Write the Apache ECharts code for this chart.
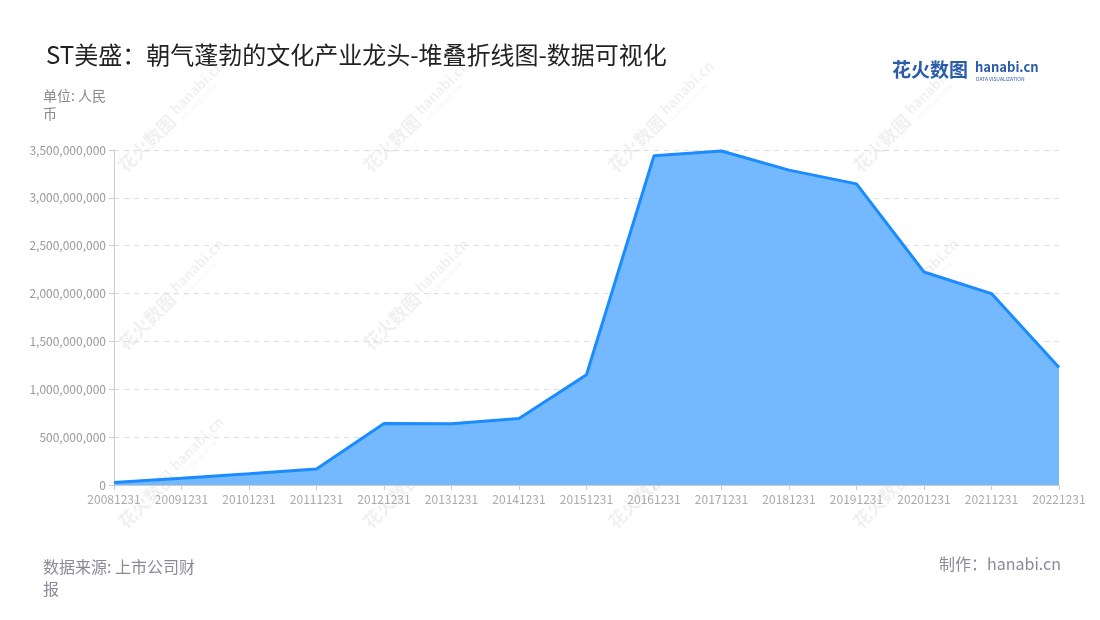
<!DOCTYPE html>
<html>
<head>
<meta charset="utf-8">
<script src="https://cdn.jsdelivr.net/npm/echarts@6/dist/echarts.min.js"></script>
<style>
html,body{margin:0;padding:0;background:#fff;}
#main{width:1100px;height:620px;}
</style>
</head>
<body>
<div id="main"></div>
<script>
const categories = ['20081231','20091231','20101231','20111231','20121231','20131231','20141231','20151231','20161231','20171231','20181231','20191231','20201231','20211231','20221231'];
const values = [25000000, 70000000, 118000000, 168000000, 643000000, 640000000, 695000000, 1153000000, 3440000000, 3490000000, 3290000000, 3146000000, 2225000000, 2000000000, 1228000000];
const titleText = 'ST美盛：朝气蓬勃的文化产业龙头-堆叠折线图-数据可视化';
const unitText = '单位: 人民\n币';
const sourceText = '数据来源: 上市公司财\n报';
const creditText = '制作：hanabi.cn';

const FONT = '"Noto Sans CJK SC", "Noto Sans", sans-serif';
const chart = echarts.init(document.getElementById('main'));

// watermarks
const wm = [];
const cols = [160, 405, 650, 895];
const rows = [130, 308, 486];
const WMC = 'rgba(0,0,0,0.06)';
cols.forEach(cx => rows.forEach(cy => {
  wm.push({
    type: 'group', x: cx, y: cy, rotation: Math.PI / 4, z: 0, silent: true,
    children: [
      {type: 'text', x: -55, y: 0, style: {text: '花火数图', font: 'bold 18px ' + FONT, fill: WMC, verticalAlign: 'middle'}},
      {type: 'text', x: 22, y: -4, style: {text: 'hanabi.cn', font: 'bold 14px ' + FONT, fill: WMC, verticalAlign: 'middle'}},
      {type: 'text', x: 23, y: 8, style: {text: 'DATA VISUALIZATION', font: '5px ' + FONT, fill: WMC, verticalAlign: 'middle'}}
    ]
  });
}));

chart.setOption({
  animation: false,
  backgroundColor: '#fff',
  textStyle: {fontFamily: FONT},
  title: {
    text: titleText, left: 41, top: 38,
    textStyle: {fontSize: 24, fontWeight: 'normal', color: '#222', fontFamily: FONT}
  },
  grid: {left: 114, right: 41, top: 150, bottom: 135},
  xAxis: {
    type: 'category', data: categories, boundaryGap: false,
    axisLine: {lineStyle: {color: '#ccc'}},
    axisTick: {show: true, lineStyle: {color: '#ccc'}},
    axisLabel: {color: '#aaa', fontSize: 12, margin: 8, interval: 0, fontFamily: FONT}
  },
  yAxis: {
    type: 'value', min: 0, max: 3500000000, interval: 500000000,
    axisLine: {show: true, lineStyle: {color: '#ccc'}},
    axisTick: {show: true, lineStyle: {color: '#ccc'}},
    axisLabel: {color: '#999', fontSize: 12, margin: 8, fontFamily: FONT,
      formatter: v => v.toLocaleString('en-US')},
    splitLine: {lineStyle: {color: '#ddd', type: [5, 5]}}
  },
  series: [{
    type: 'line', data: values, symbol: 'none', z: 3,
    lineStyle: {color: '#1a8cff', width: 3},
    itemStyle: {color: '#1a8cff'},
    areaStyle: {color: '#74b9fd', opacity: 1}
  }],
  graphic: wm.concat([
    {type: 'text', left: 43, top: 87, z: 10, style: {text: unitText, font: '14px ' + FONT, fill: '#8a8a8a', lineHeight: 18}},
    {type: 'text', left: 43, top: 556, z: 10, style: {text: sourceText, font: '16px ' + FONT, fill: '#8a8a99', lineHeight: 22}},
    {type: 'text', right: 39, top: 556, z: 10, style: {text: creditText, font: '16px ' + FONT, fill: '#8a8a99'}},
    {type: 'text', left: 892, top: 60, z: 10, style: {text: '花火数图', font: 'bold 19px ' + FONT, fill: '#2a5caa'}},
    {type: 'text', left: 975, top: 61, z: 10, style: {text: 'hanabi.cn', font: 'bold 13px ' + FONT, fill: '#2a5caa'}},
    {type: 'text', left: 976, top: 77, z: 10, style: {text: 'DATA VISUALIZATION', font: '5px ' + FONT, fill: '#2a5caa'}}
  ])
});
</script>
</body>
</html>
